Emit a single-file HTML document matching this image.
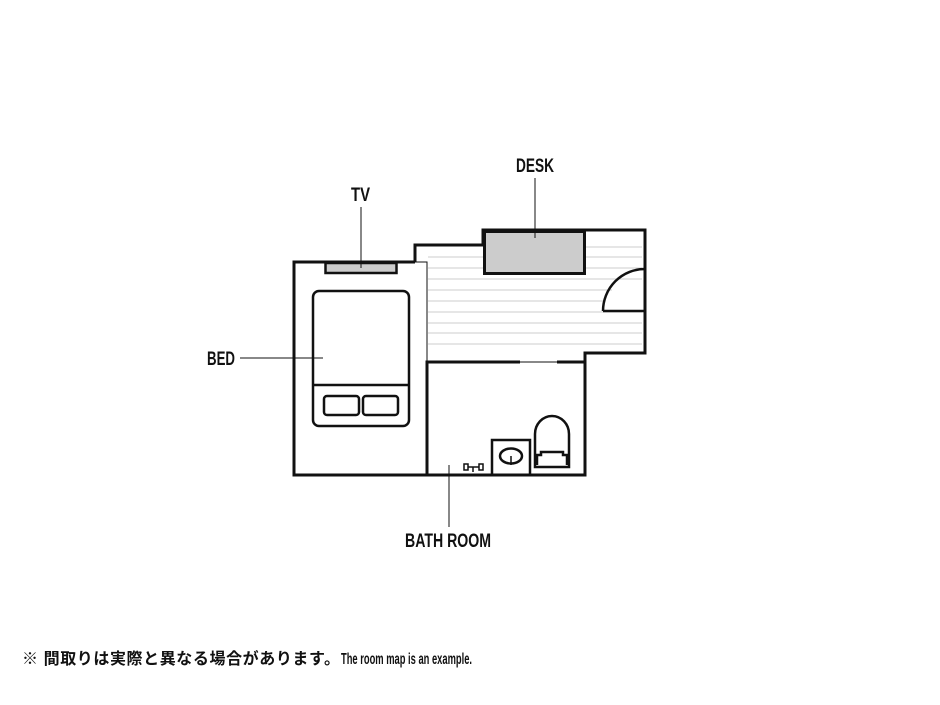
<!DOCTYPE html>
<html><head><meta charset="utf-8"><style>
body{margin:0;background:#fff;width:940px;height:705px;overflow:hidden}
svg{display:block}
.l{font-family:"Liberation Sans",sans-serif;font-weight:bold;font-size:19px;fill:#111}
</style></head><body>
<svg width="940" height="705" viewBox="0 0 940 705" xmlns="http://www.w3.org/2000/svg">
<g stroke="#ccc" stroke-width="1">
<line x1="428" y1="257" x2="483" y2="257"/>
<line x1="586" y1="247" x2="642" y2="247"/>
<line x1="586" y1="257" x2="642" y2="257"/>
<line x1="586" y1="268" x2="642" y2="268"/>
<line x1="428" y1="268" x2="483" y2="268"/>
<line x1="428" y1="279" x2="642" y2="279"/>
<line x1="428" y1="290" x2="612" y2="290"/>
<line x1="428" y1="301" x2="605" y2="301"/>
<line x1="428" y1="312" x2="642" y2="312"/>
<line x1="428" y1="323" x2="642" y2="323"/>
<line x1="428" y1="333" x2="642" y2="333"/>
<line x1="428" y1="344" x2="642" y2="344"/>
</g>
<g fill="none" stroke="#111" stroke-width="3">
<path d="M415,262 L294,262 L294,475 L585,475 L585,353 L645,353 L645,230 L483,230 L483,245 L415,245 L415,262"/>
<path d="M427,475 L427,362 L520,362 M557,362 L585,362"/>
</g>
<g stroke="#111" stroke-width="1" fill="none">
<path d="M415,262 L427,262 L427,362"/>
<line x1="520" y1="362" x2="557" y2="362"/>
</g>
<rect x="484.5" y="231.5" width="100" height="42" fill="#ccc" stroke="#111" stroke-width="3"/>
<rect x="325.5" y="263" width="71" height="10" fill="#ccc" stroke="#111" stroke-width="2.5"/>
<path d="M603,311 A42,42 0 0 1 645,269" fill="none" stroke="#111" stroke-width="2.5"/>
<line x1="603" y1="311" x2="645" y2="311" stroke="#111" stroke-width="2.5"/>
<g fill="none" stroke="#111" stroke-width="2.5">
<rect x="313" y="291" width="96" height="135" rx="6"/>
<line x1="313" y1="385" x2="409" y2="385"/>
<rect x="324" y="396" width="35" height="19" rx="3"/>
<rect x="363" y="396" width="35" height="19" rx="3"/>
<rect x="492" y="440" width="38" height="35"/>
<ellipse cx="511" cy="456" rx="11" ry="7.5"/>
<path d="M535,467 L535,434 A17,18 0 0 1 569,434 L569,467 Z"/>
<path d="M537,465 L537,455 L541,455 L541,452 L563,452 L563,455 L567,455 L567,465"/>
</g>
<line x1="511" y1="456" x2="511" y2="465" stroke="#111" stroke-width="1.5"/>
<g stroke="#111" stroke-width="1.5" fill="none">
<rect x="464" y="464" width="4" height="6"/><rect x="479" y="464" width="4" height="6"/>
<line x1="468" y1="467" x2="479" y2="467"/><line x1="473" y1="467" x2="473" y2="472"/>
</g>
<g stroke="#111" stroke-width="1">
<line x1="361" y1="207" x2="361" y2="268"/>
<line x1="535" y1="178" x2="535" y2="238"/>
<line x1="240" y1="358" x2="323" y2="358"/>
<line x1="449" y1="465" x2="449" y2="527"/>
</g>
<text class="l" x="351" y="201" textLength="19" lengthAdjust="spacingAndGlyphs">TV</text>
<text class="l" x="516" y="172" textLength="38" lengthAdjust="spacingAndGlyphs">DESK</text>
<text class="l" x="207" y="365" textLength="28" lengthAdjust="spacingAndGlyphs">BED</text>
<text class="l" x="405" y="547" textLength="86" lengthAdjust="spacingAndGlyphs">BATH ROOM</text>
<text x="22" y="664" style="font-family:'Liberation Sans','Noto Sans CJK JP',sans-serif;font-weight:bold;font-size:16px;fill:#111" textLength="318" lengthAdjust="spacing">※ 間取りは実際と異なる場合があります。</text>
<text x="341" y="664" style="font-family:'Liberation Sans',sans-serif;font-weight:bold;font-size:16px;fill:#111" textLength="131" lengthAdjust="spacingAndGlyphs">The room map is an example.</text>
</svg>
</body></html>
